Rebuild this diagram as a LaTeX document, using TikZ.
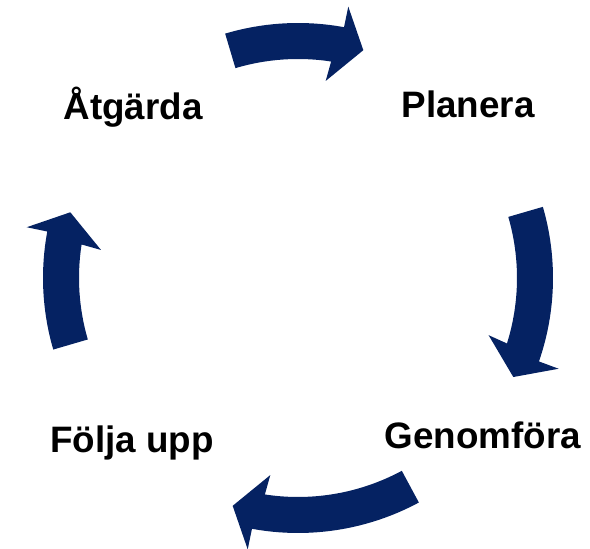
\documentclass[tikz,border=0pt]{standalone}
\usepackage{fontspec}
\setmainfont{Liberation Sans}
\definecolor{navy}{RGB}{5,34,98}
\tikzset{lbl/.style={font=\fontsize{36.8}{42}\selectfont\bfseries, anchor=base, inner sep=0pt}}
\newcommand{\cyclearrow}[2]{%
  \fill[navy] (#1:255pt) arc[start angle=#1, end angle=#2+5.6, radius=255pt]
    -- (#2+5.5:276pt) -- (#2:237pt) -- (#2+8:199pt) -- (#2+7.3:219pt)
    arc[start angle=#2+7.3, end angle=#1, radius=219pt] -- cycle;}
\begin{document}
\begin{tikzpicture}[x=1pt,y=1pt]
\useasboundingbox (0,0) rectangle (590,549);
\begin{scope}[shift={(298,271)}]
  \cyclearrow{106.6}{74}
  \cyclearrow{16.2}{-24.7}
  \cyclearrow{-61.7}{-106}
  \cyclearrow{196.3}{163.9}
\end{scope}
\node[lbl] (atgarda) at (133,429.7) {Åtgärda};
\node[lbl] (planera) at (468,431.3) {Planera};
\node[lbl] (genomfora) at (483,100.7) {Genomföra};
\node[lbl] (folja) at (132,96) {Följa upp};
\end{tikzpicture}
\end{document}
